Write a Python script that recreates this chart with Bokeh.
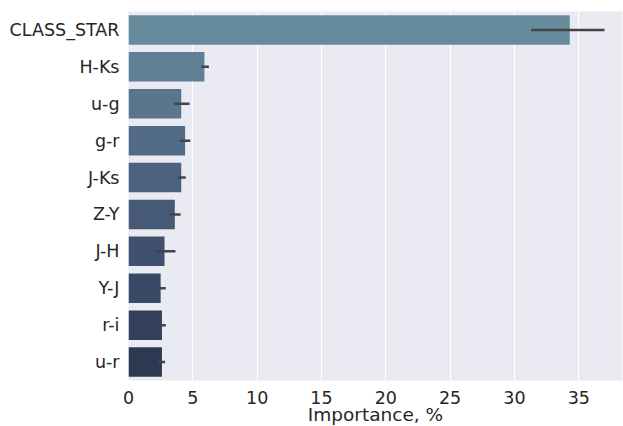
from bokeh.plotting import figure
from bokeh.models import ColumnDataSource, FactorRange, Range1d, FixedTicker
from bokeh.embed import file_html
from bokeh.resources import INLINE

features = ["CLASS_STAR", "H-Ks", "u-g", "g-r", "J-Ks", "Z-Y", "J-H", "Y-J", "r-i", "u-r"]
importance = [34.3, 5.9, 4.1, 4.4, 4.1, 3.6, 2.8, 2.5, 2.6, 2.6]
err_low = [31.3, 5.65, 3.55, 4.0, 3.85, 3.2, 2.05, 2.25, 2.3, 2.3]
err_high = [37.0, 6.25, 4.75, 4.8, 4.45, 4.05, 3.65, 2.9, 2.9, 2.85]
x_ticks = [0, 5, 10, 15, 20, 25, 30, 35]

palette = ["#668b9d", "#5f7f95", "#5a768f", "#526c88", "#4c6280",
           "#465a78", "#3f516f", "#384966", "#33405d", "#2d3852"]

src = ColumnDataSource(dict(feat=features, imp=importance, lo=err_low, hi=err_high, color=palette))

p = figure(width=623, height=440, output_backend="svg", toolbar_location=None,
           y_range=FactorRange(factors=list(reversed(features)), range_padding=0),
           x_range=Range1d(0, 38.4),
           min_border_left=128, min_border_right=1, min_border_top=11, min_border_bottom=60)

p.background_fill_color = "#EAEAF2"
p.border_fill_color = "white"
p.outline_line_color = None

p.hbar(y="feat", left=0, right="imp", height=0.8, fill_color="color", line_color=None, source=src)
p.segment(x0="lo", x1="hi", y0="feat", y1="feat", line_color="#444444", line_width=2.5, source=src)

p.xaxis.ticker = FixedTicker(ticks=x_ticks)
p.xgrid.grid_line_color = "white"
p.xgrid.grid_line_width = 1.2
p.ygrid.grid_line_color = None

for ax in (p.xaxis, p.yaxis):
    ax.axis_line_color = None
    ax.major_tick_line_color = None
    ax.minor_tick_line_color = None
    ax.major_label_text_font = "DejaVu Sans"
    ax.major_label_text_font_size = "17.5px"
    ax.major_label_text_color = "#262626"

p.yaxis.major_label_standoff = 3
p.xaxis.major_label_standoff = 4
p.xaxis.axis_label = "Importance, %"
p.xaxis.axis_label_text_font = "DejaVu Sans"
p.xaxis.axis_label_text_font_size = "18.5px"
p.xaxis.axis_label_text_font_style = "normal"
p.xaxis.axis_label_text_color = "#262626"
p.xaxis.axis_label_standoff = -3

open("out.html", "w").write(file_html(p, INLINE))
